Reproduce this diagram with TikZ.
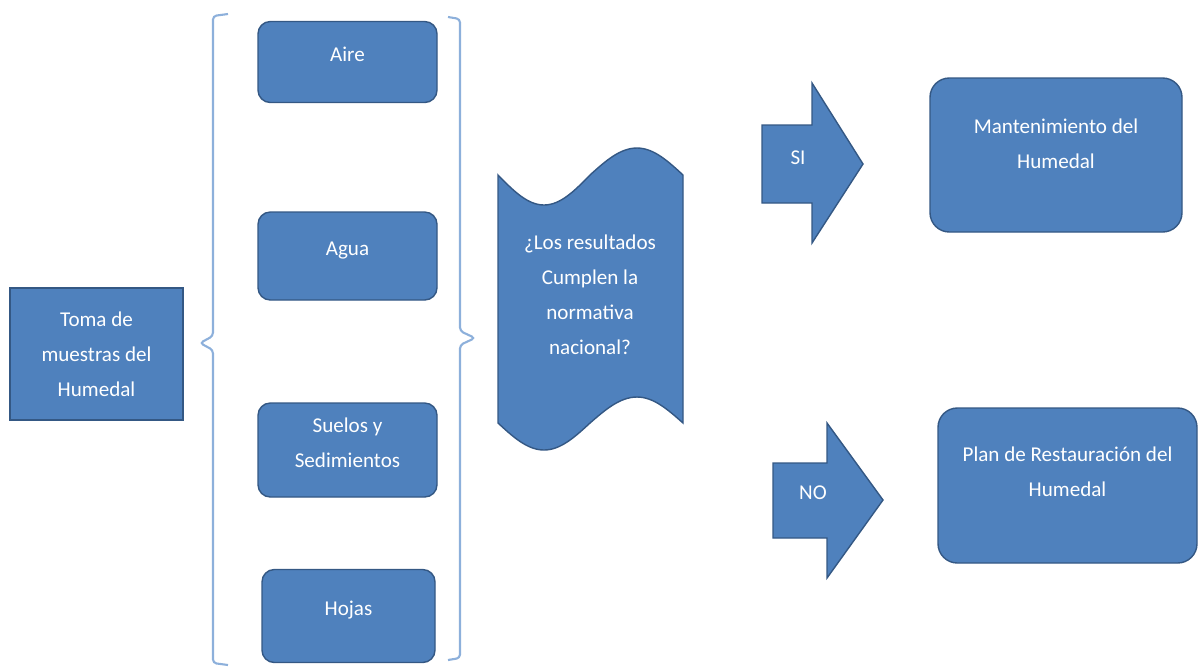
\documentclass[tikz,border=0pt]{standalone}
\usepackage{fontspec}
\setmainfont{Carlito}
\usetikzlibrary{positioning}
\definecolor{boxblue}{RGB}{79,129,189}
\definecolor{edgeblue}{RGB}{52,88,132}
\definecolor{bracecol}{RGB}{141,176,219}
\tikzset{
  blk/.style={rectangle, rounded corners=7pt, draw=edgeblue, line width=0.8pt, fill=boxblue,
              text=white, align=center, font=\fontsize{12}{20}\selectfont,
              minimum width=35.8mm, text depth=3mm},
  big/.style={blk, rounded corners=11pt, text depth=4.5mm},
  plain/.style={rectangle, draw=edgeblue, line width=0.8pt, fill=boxblue, text=white,
                align=center, font=\fontsize{12}{20}\selectfont,
                minimum width=34.6mm, minimum height=26.4mm},
  tape/.style={draw=edgeblue, line width=0.8pt, fill=boxblue},
  bigar/.style={draw=edgeblue, line width=0.8pt, fill=boxblue, line join=miter},
  txt/.style={text=white, align=center, font=\fontsize{12}{20}\selectfont},
  brc/.style={draw=bracecol, line width=1.2pt, rounded corners=2pt},
}
\begin{document}
\begin{tikzpicture}[x=0.2mm, y=-0.2mm]
\useasboundingbox (0,0) rectangle (1200,667);
\node[plain] (toma) at (96.5,354) {Toma de\\muestras del\\Humedal};
\node[blk, minimum height=16.2mm] (aire) at (347.5,62) {Aire};
\node[blk, minimum height=17.6mm] (agua) at (347.5,256) {Agua};
\node[blk, minimum height=18.8mm] (suelos) at (347.5,450) {Suelos y\\Sedimientos};
\node[blk, minimum height=18.6mm, minimum width=34.6mm] (hojas) at (348.5,616) {Hojas};
\draw[brc] (228,14) -- (213,16) -- (213,336) -- (200,343) -- (213,350) -- (213,663) -- (228,665);
\draw[brc] (448,17) -- (460,19) -- (460,331) -- (475,338) -- (460,345) -- (460,658) -- (448,660);
\draw[tape] (498,175) sin (544,205) cos (590,175) sin (637,148) cos (683,175)
  -- (683,423) sin (637,397) cos (590,423) sin (544,450) cos (498,423) -- cycle;
\node[txt] (pregunta) at (590,295) {¿Los resultados\\Cumplen la\\normativa\\nacional?};
\draw[bigar] (762,125) -- (812,125) -- (812,83) -- (863,164) -- (812,243) -- (812,203) -- (762,203) -- cycle;
\node[txt] (si) at (798,158) {SI};
\draw[bigar] (773,463) -- (827,463) -- (827,423) -- (883,500) -- (827,578) -- (827,538) -- (773,538) -- cycle;
\node[txt] (no) at (813,493) {NO};
\node[big, minimum width=50.4mm, minimum height=30.8mm] (mant) at (1056,155) {Mantenimiento del\\Humedal};
\node[big, minimum width=51.8mm, minimum height=31mm, text depth=5.5mm] (plan) at (1067.5,485.5) {Plan de Restauración del\\Humedal};
\end{tikzpicture}
\end{document}
